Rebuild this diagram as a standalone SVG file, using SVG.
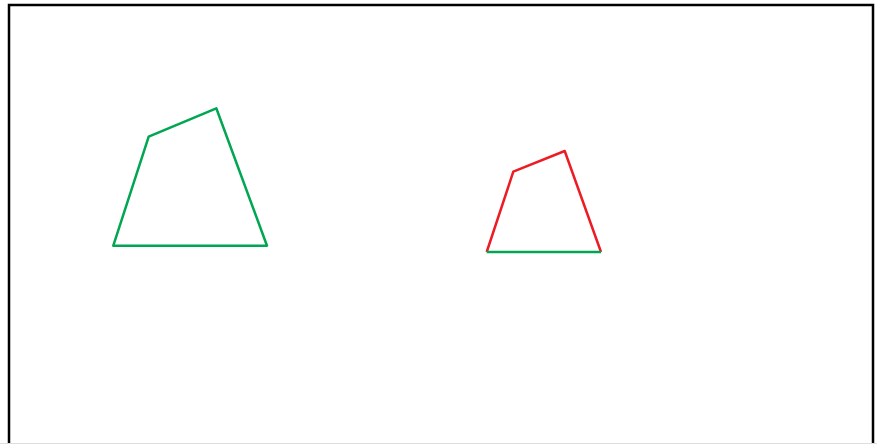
<svg xmlns="http://www.w3.org/2000/svg" width="877" height="444" viewBox="0 0 877 444">
<style>
.g{fill:none;stroke:#00A651;stroke-width:2.5;stroke-linejoin:round}
.r{fill:none;stroke:#ED1C24;stroke-width:2.5;stroke-linejoin:round}
</style>
<rect width="877" height="444" fill="#fff"/>
<rect x="9" y="5" width="864" height="460" fill="none" stroke="#000" stroke-width="2.5"/>
<line x1="0" y1="443.5" x2="877" y2="443.5" stroke="#ddd" stroke-width="1"/>
<g id="big">
<polygon class="g" points="113.3,245.7 148.7,136.7 216.3,108.3 267,245.7"/>
</g>
<g id="small">
<polyline class="r" points="486.7,252 513.3,171.7 564.7,151 601,252"/>
<line class="g" x1="486.7" y1="252" x2="601" y2="252"/>
</g>
</svg>
